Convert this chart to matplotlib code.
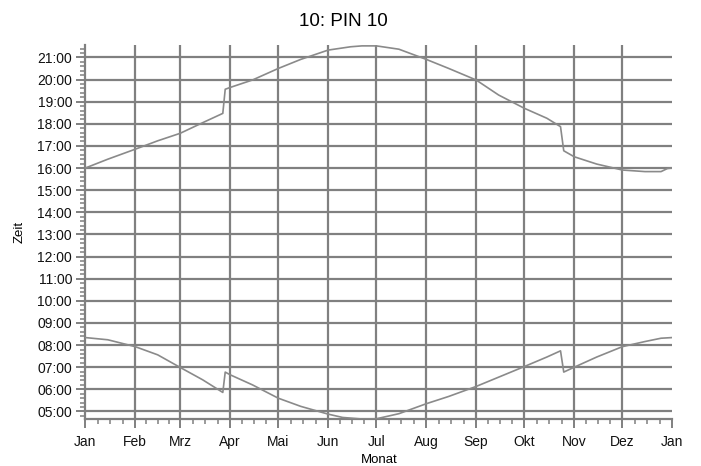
import matplotlib
matplotlib.use("Agg")
import matplotlib.pyplot as plt
from matplotlib.ticker import FixedLocator, MultipleLocator, FuncFormatter

plt.rcParams['font.family'] = ['Liberation Sans', 'DejaVu Sans']

# ---- data ----
month_labels = ["Jan", "Feb", "Mrz", "Apr", "Mai", "Jun", "Jul", "Aug", "Sep", "Okt", "Nov", "Dez", "Jan"]
month_starts = [0, 31, 59, 90, 120, 151, 181, 212, 243, 273, 304, 334, 365]

upper_days = [0, 14, 31, 45, 59, 73, 85.5, 87, 90, 104, 120, 134, 151, 165, 172, 181,
              195, 212, 226, 243, 257, 273, 287, 295.5, 297.5, 304, 318, 334, 348, 358, 362, 365]
upper_hours = [16.0, 16.40, 16.85, 17.23, 17.57, 18.05, 18.47, 19.56, 19.64, 19.98, 20.50, 20.91,
               21.33, 21.48, 21.52, 21.52, 21.37, 20.91, 20.50, 19.98, 19.30, 18.70, 18.25, 17.87,
               16.78, 16.51, 16.18, 15.91, 15.84, 15.84, 15.98, 16.0]

lower_days = [0, 14, 31, 45, 59, 73, 85.5, 87, 90, 104, 120, 134, 151, 160, 172, 181,
              195, 212, 226, 243, 257, 273, 287, 295.5, 297.5, 304, 318, 334, 348, 358, 365]
lower_hours = [8.34, 8.24, 7.93, 7.56, 6.99, 6.43, 5.86, 6.78, 6.66, 6.20, 5.60, 5.23,
               4.88, 4.73, 4.66, 4.67, 4.90, 5.35, 5.68, 6.13, 6.55, 7.03, 7.46, 7.74,
               6.78, 7.00, 7.46, 7.93, 8.16, 8.31, 8.34]

hour_ticks = list(range(5, 22))

# ---- figure ----
W, H = 701, 466
fig = plt.figure(figsize=(W / 100, H / 100), dpi=100)
ax = fig.add_axes([85.3 / W, 1 - 419 / H, (672.3 - 85.3) / W, (419 - 45) / H])

gray = "#808080"
ax.plot(upper_days, upper_hours, color="#8a8a8a", lw=1.2, zorder=3)
ax.plot(lower_days, lower_hours, color="#8a8a8a", lw=1.2, zorder=3)

ax.set_xlim(0, 365)
ax.set_ylim(4.66, 21.56)

ax.xaxis.set_major_locator(FixedLocator(month_starts))
ax.set_xticklabels(month_labels)
minor_x = []
for a, b in zip(month_starts[:-1], month_starts[1:]):
    for k in range(1, 4):
        minor_x.append(a + (b - a) * k / 4)
ax.xaxis.set_minor_locator(FixedLocator(minor_x))

ax.yaxis.set_major_locator(FixedLocator(hour_ticks))
ax.yaxis.set_major_formatter(FuncFormatter(lambda v, p: f"{int(round(v)):02d}:00"))
ax.yaxis.set_minor_locator(MultipleLocator(0.2))

# grid: interior months and all hours
for d in month_starts[1:-1]:
    ax.axvline(d, color=gray, lw=1.6, zorder=1)
for h in hour_ticks:
    ax.axhline(h, color=gray, lw=1.6, zorder=1)

for s in ["top", "right"]:
    ax.spines[s].set_visible(False)
for s in ["left", "bottom"]:
    ax.spines[s].set_color(gray)
    ax.spines[s].set_linewidth(1.6)

ax.tick_params(axis="both", which="major", direction="out", length=6.5, width=1.4,
               color=gray, labelsize=10, labelcolor="#111111")
ax.tick_params(axis="both", which="minor", direction="out", length=3.5, width=1.1, color=gray)
ax.tick_params(axis="y", which="major", pad=3)
ax.tick_params(axis="x", which="major", pad=5)

ax.set_xlabel("Monat", fontsize=9.5, labelpad=3.5)
ax.set_ylabel("Zeit", fontsize=9.5, labelpad=8)

fig.text(343 / W, 1 - 21.5 / H, "10: PIN 10", ha="center", va="center", fontsize=13.5)

fig.savefig("out.png", dpi=100, facecolor="white")
